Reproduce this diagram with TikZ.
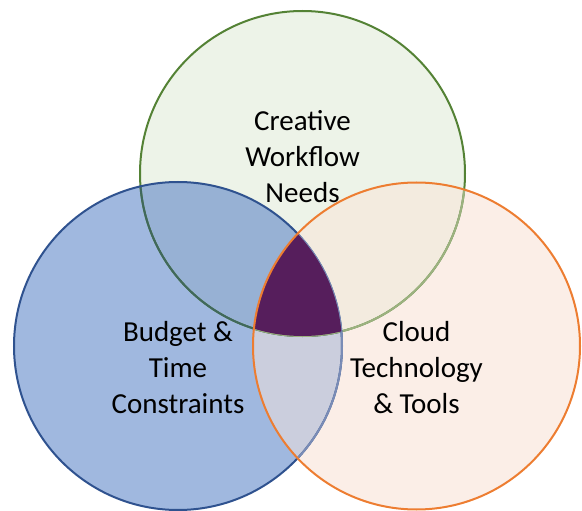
\documentclass[tikz,border=0pt]{standalone}
\usepackage{fontspec}
\setmainfont{Carlito}
\definecolor{gfill}{RGB}{237,243,232}
\definecolor{bfill}{RGB}{160,184,223}
\definecolor{ofill}{RGB}{251,238,231}
\definecolor{gbfill}{RGB}{151,177,212}
\definecolor{gofill}{RGB}{243,235,223}
\definecolor{bofill}{RGB}{203,206,221}
\definecolor{allfill}{RGB}{86,30,92}
\definecolor{gline}{RGB}{84,130,53}
\definecolor{glineb}{RGB}{64,104,92}
\definecolor{glineo}{RGB}{156,178,128}
\definecolor{bline}{RGB}{47,82,143}
\definecolor{blineo}{RGB}{122,140,182}
\definecolor{oline}{RGB}{237,125,49}
\begin{document}
\begin{tikzpicture}[x=1pt,y=-1pt]
\tikzset{
  lab/.style={align=center, font=\fontsize{29}{36}\selectfont, text=black},
  ring/.style={line width=2pt}
}
\useasboundingbox (0,0) rectangle (582,511);
\clip (0,0) rectangle (582,511);
\coordinate (gc) at (302.5,173.5);
\coordinate (bc) at (178,346);
\coordinate (oc) at (416.5,346);
\newcommand\rG{162.5pt}
\newcommand\rB{164pt}
\newcommand\rO{163.5pt}
% single fills
\fill[gfill] (gc) circle [radius=\rG];
\fill[bfill] (bc) circle [radius=\rB];
\fill[ofill] (oc) circle [radius=\rO];
% pair overlaps
\begin{scope}
  \clip (gc) circle [radius=\rG];
  \fill[gbfill] (bc) circle [radius=\rB];
  \fill[gofill] (oc) circle [radius=\rO];
\end{scope}
\begin{scope}
  \clip (bc) circle [radius=\rB];
  \fill[bofill] (oc) circle [radius=\rO];
\end{scope}
% green outline
\draw[ring, gline] (gc) circle [radius=\rG];
\begin{scope}
  \clip (bc) circle [radius=\rB];
  \draw[ring, glineb] (gc) circle [radius=\rG];
\end{scope}
\begin{scope}
  \clip (oc) circle [radius=\rO];
  \draw[ring, glineo] (gc) circle [radius=\rG];
\end{scope}
% blue outline
\draw[ring, bline] (bc) circle [radius=\rB];
\begin{scope}
  \clip (oc) circle [radius=\rO];
  \draw[ring, blineo] (bc) circle [radius=\rB];
\end{scope}
% triple overlap
\begin{scope}
  \clip (gc) circle [radius=\rG];
  \clip (bc) circle [radius=\rB];
  \fill[allfill] (oc) circle [radius=\rO];
\end{scope}
% orange outline
\draw[ring, oline] (oc) circle [radius=\rO];
% labels
\node[lab] (tg) at (302.5,157) {Creative\\Workflow\\Needs};
\node[lab] (tb) at (178,368) {Budget \&\\Time\\Constraints};
\node[lab] (to) at (416.5,368) {Cloud\\Technology\\\& Tools};
\end{tikzpicture}
\end{document}
